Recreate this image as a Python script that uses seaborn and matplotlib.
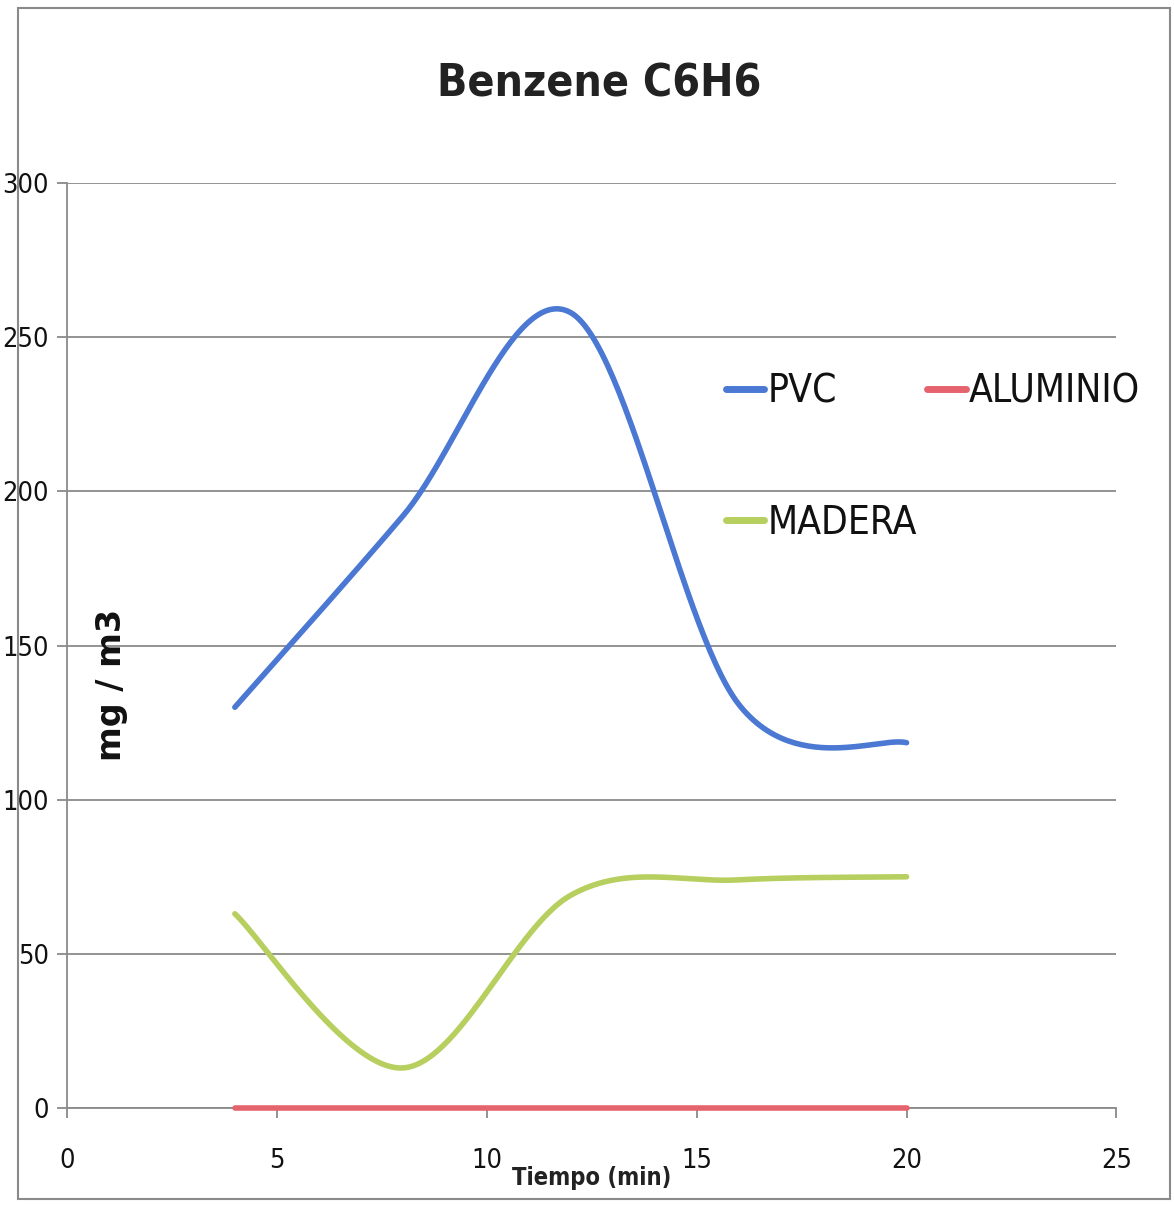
import numpy as np
import pandas as pd
import matplotlib
matplotlib.use("Agg")
import matplotlib.pyplot as plt
import seaborn as sns
from matplotlib.patches import Rectangle

# ---- data ----
tiempo = [4, 8, 12, 16, 20]
pvc = [130, 192, 258, 131, 118.5]
aluminio = [0, 0, 0, 0, 0]
madera = [63, 13, 69, 74, 75]
series_names = ["PVC", "ALUMINIO", "MADERA"]
colors = {"PVC": "#4a78d2", "ALUMINIO": "#e5636d", "MADERA": "#b6cf5e"}
xticks = [0, 5, 10, 15, 20, 25]
yticks = [0, 50, 100, 150, 200, 250, 300]


def excel_smooth(x, y, n=60):
    """Excel-style smoothed line (cubic Bezier through the points)."""
    p = np.column_stack([x, y]).astype(float)
    pts = []
    m = len(p)
    for i in range(m - 1):
        p0 = p[i - 1] if i > 0 else p[i]
        p1, p2 = p[i], p[i + 1]
        p3 = p[i + 2] if i + 2 < m else p[i + 1]
        c1 = p1 + (p2 - p0) / 6.0
        c2 = p2 - (p3 - p1) / 6.0
        t = np.linspace(0, 1, n)[:, None]
        seg = ((1 - t) ** 3) * p1 + 3 * ((1 - t) ** 2) * t * c1 + 3 * (1 - t) * t ** 2 * c2 + t ** 3 * p2
        if i > 0:
            seg = seg[1:]
        pts.append(seg)
    return np.vstack(pts)


frames = []
for name, vals in zip(series_names, [pvc, aluminio, madera]):
    c = excel_smooth(tiempo, vals)
    frames.append(pd.DataFrame({"x": c[:, 0], "y": c[:, 1], "serie": name}))
df = pd.concat(frames, ignore_index=True)

sns.set_theme(style="white")
plt.rcParams["font.family"] = ["DejaVu Sans"]
plt.rcParams["font.stretch"] = "condensed"

fig = plt.figure(figsize=(11.74, 12.05), dpi=100)
ax = fig.add_axes([0.057, 0.0805, 0.894, 0.7675])

ax.set_xlim(0, 25)
ax.set_ylim(0, 300)
ax.set_xticks(xticks)
ax.set_yticks(yticks)
ax.yaxis.grid(True, color="#8a8a8a", linewidth=1.3)
ax.xaxis.grid(False)
ax.set_axisbelow(True)

for name in ["PVC", "MADERA", "ALUMINIO"]:
    sub = df[df["serie"] == name]
    sns.lineplot(data=sub, x="x", y="y", sort=False, color=colors[name], linewidth=4,
                 ax=ax, label=name, zorder=5 if name == "ALUMINIO" else 4,
                 clip_on=False)

for s in ["top", "right"]:
    ax.spines[s].set_visible(False)
for s in ["left", "bottom"]:
    ax.spines[s].set_color("#8a8a8a")
    ax.spines[s].set_linewidth(1.3)

ax.tick_params(axis="both", which="both", direction="out", length=7, width=1.3,
               color="#8a8a8a", labelsize=19.5, labelcolor="#111111",
               left=True, bottom=True)
ax.tick_params(axis="x", pad=22)
ax.tick_params(axis="y", pad=6)

ax.set_xlabel("Tiempo (min)", fontsize=17, fontweight="bold", color="#222222")
ax.xaxis.set_label_coords(0.5, -0.063)
ax.set_ylabel("mg / m3", fontsize=24, fontweight="bold", color="#111111",
              fontstretch="normal")
ax.yaxis.set_label_coords(0.058, 0.457)

fig.text(0.51, 0.93, "Benzene C6H6", ha="center", va="center", fontsize=32,
         fontweight="bold", color="#222222")

h, l = ax.get_legend_handles_labels()
order = [l.index("PVC"), l.index("MADERA"), l.index("ALUMINIO")]
leg = ax.legend([h[i] for i in order], [l[i] for i in order], ncol=2,
                loc="center left", bbox_to_anchor=(0.609, 0.704), frameon=False,
                fontsize=28, handlelength=1.0, handletextpad=0.08, borderpad=0,
                labelspacing=2.4, columnspacing=0.25)
for line in leg.get_lines():
    line.set_linewidth(5)
for t in leg.get_texts():
    t.set_color("#111111")

fig.patches.append(Rectangle((0.015, 0.005), 0.982, 0.988, transform=fig.transFigure,
                             fill=False, edgecolor="#8a8a8a", linewidth=1.5))

fig.savefig("out.png", dpi=100, facecolor="white")
